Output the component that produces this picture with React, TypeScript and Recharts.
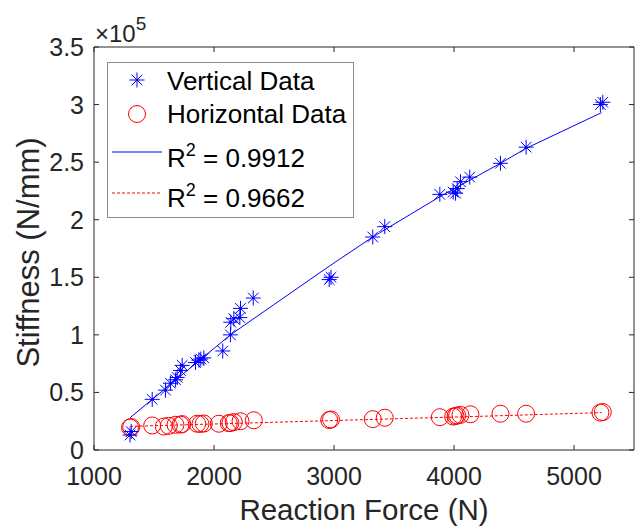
import { ScatterChart, Scatter, XAxis, YAxis, Legend } from "recharts";

const AXIS = "#262626";
const FONT = "'Liberation Sans', Arial, Helvetica, sans-serif";
const BLUE = "#0000ff";
const RED = "#ff0000";

// stiffness values are in units of 1e5 N/mm
const vertForce = [1300, 1310, 1485, 1596, 1637, 1680, 1693, 1721, 1735, 1846, 1874, 1890, 1915, 2073, 2137, 2140, 2165, 2215, 2221, 2327, 2960, 2975, 3323, 3423, 3882, 3993, 4013, 4027, 4054, 4131, 4387, 4601, 5220, 5240];
const vertStiff = [0.13, 0.16, 0.44, 0.52, 0.58, 0.61, 0.63, 0.69, 0.735, 0.76, 0.78, 0.79, 0.8, 0.86, 1.0, 1.11, 1.14, 1.15, 1.23, 1.32, 1.48, 1.5, 1.85, 1.94, 2.22, 2.24, 2.23, 2.27, 2.33, 2.37, 2.49, 2.63, 3.0, 3.02];

const horizForce = [1300, 1310, 1485, 1582, 1623, 1679, 1721, 1735, 1860, 1887, 1915, 2040, 2123, 2137, 2165, 2221, 2332, 2960, 2975, 3323, 3423, 3882, 3993, 4013, 4027, 4054, 4137, 4387, 4601, 5220, 5240];
const horizStiff = [0.195, 0.2, 0.213, 0.204, 0.21, 0.219, 0.22, 0.225, 0.228, 0.226, 0.23, 0.228, 0.233, 0.235, 0.242, 0.25, 0.258, 0.26, 0.265, 0.268, 0.28, 0.285, 0.29, 0.295, 0.3, 0.305, 0.31, 0.315, 0.315, 0.325, 0.33];

const vFitForce = [1300, 2137, 2965, 3323, 3882, 4387, 4601, 5230];
const vFitStiff = [0.28, 1.0, 1.6, 1.85, 2.2, 2.49, 2.62, 2.93];
const hFitForce = [1300, 2300, 3300, 4300, 5230];
const hFitStiff = [0.205, 0.235, 0.265, 0.295, 0.325];

const xTicks = [1000, 2000, 3000, 4000, 5000];
const yTicks = [0, 0.5, 1, 1.5, 2, 2.5, 3, 3.5];
const xDomain = [1000, 5500];
const yDomain = [0, 3.5];

const toPoints = (xs: number[], ys: number[]) => xs.map((x, i) => ({ x, y: ys[i] }));

const Star = ({ cx, cy }: any) => {
  const a = 7.5;
  const d = 5.3;
  return (
    <g stroke={BLUE} strokeWidth={1}>
      <line x1={cx - a} y1={cy} x2={cx + a} y2={cy} />
      <line x1={cx} y1={cy - a} x2={cx} y2={cy + a} />
      <line x1={cx - d} y1={cy - d} x2={cx + d} y2={cy + d} />
      <line x1={cx - d} y1={cy + d} x2={cx + d} y2={cy - d} />
      <circle cx={cx} cy={cy} r={1.3} fill={BLUE} stroke="none" />
    </g>
  );
};

const Ring = ({ cx, cy }: any) => <circle cx={cx} cy={cy} r={8.5} fill="none" stroke={RED} strokeWidth={1} />;

const NoMark = () => <g />;

const BottomTick = ({ x, y, payload }: any) => (
  <g>
    <line x1={x} y1={y} x2={x} y2={y - 5} stroke={AXIS} />
    <text x={x} y={y + 35} textAnchor="middle" fontSize={25} fill={AXIS} fontFamily={FONT}>
      {payload.value}
    </text>
  </g>
);

const LeftTick = ({ x, y, payload }: any) => (
  <g>
    <line x1={x} y1={y} x2={x + 5} y2={y} stroke={AXIS} />
    <text x={x - 10} y={y + 9} textAnchor="end" fontSize={25} fill={AXIS} fontFamily={FONT}>
      {payload.value}
    </text>
  </g>
);

const TopTick = ({ x, y }: any) => <line x1={x} y1={y} x2={x} y2={y + 5} stroke={AXIS} />;
const RightTick = ({ x, y }: any) => <line x1={x} y1={y} x2={x - 5} y2={y} stroke={AXIS} />;

const XLabel = ({ viewBox }: any) => (
  <text x={viewBox.x + viewBox.width / 2} y={viewBox.y + 70} textAnchor="middle" fontSize={29.5} fill={AXIS} fontFamily={FONT}>
    Reaction Force (N)
  </text>
);

const YLabel = ({ viewBox }: any) => {
  const { x, y, width, height } = viewBox;
  return (
    <g fontFamily={FONT} fill={AXIS}>
      <text transform={`translate(${x + 39}, ${y + height / 2 + 4}) rotate(-90)`} textAnchor="middle" fontSize={31}>
        Stiffness (N/mm)
      </text>
      <text x={x + width + 1} y={y - 5} fontSize={24}>
        ×10<tspan dy={-12} fontSize={19}>5</tspan>
      </text>
    </g>
  );
};

const legendRows = [
  { kind: "star", text: "Vertical Data", base: 28, mid: 18 },
  { kind: "ring", text: "Horizontal Data", base: 61, mid: 52 },
  { kind: "solid", text: "0.9912", base: 105, mid: 90 },
  { kind: "dash", text: "0.9662", base: 145, mid: 131 },
];

const LegendBox = () => (
  <svg width={247} height={156} style={{ display: "block" }}>
    <rect x={0.5} y={0.5} width={246} height={155} fill="#fff" stroke="#8c8c8c" />
    <g fontFamily={FONT} fontSize={26} fill="#000">
      {legendRows.map((r) => (
        <g key={r.kind}>
          {r.kind === "star" && <Star cx={30} cy={r.mid} />}
          {r.kind === "ring" && <Ring cx={30} cy={r.mid} />}
          {r.kind === "solid" && <line x1={5} y1={r.mid} x2={55} y2={r.mid} stroke={BLUE} />}
          {r.kind === "dash" && <line x1={5} y1={r.mid} x2={55} y2={r.mid} stroke={RED} strokeDasharray="3 2" />}
          {r.kind === "star" || r.kind === "ring" ? (
            <text x={60} y={r.base}>{r.text}</text>
          ) : (
            <text x={60} y={r.base}>
              R<tspan dy={-11} fontSize={18}>2</tspan>
              <tspan dy={11}> = {r.text}</tspan>
            </text>
          )}
        </g>
      ))}
    </g>
  </svg>
);

export default function App() {
  return (
    <div style={{ position: "absolute", left: 0, top: 0, width: 636, height: 528, background: "#fff" }}>
      <ScatterChart width={636} height={528} margin={{ top: 46, right: 1, bottom: 0, left: 0 }}>
        <XAxis
          xAxisId="b"
          dataKey="x"
          type="number"
          domain={xDomain}
          ticks={xTicks}
          allowDataOverflow
          height={78}
          tickSize={0}
          tickMargin={0}
          tickLine={false}
          axisLine={{ stroke: AXIS }}
          tick={BottomTick}
          label={XLabel}
        />
        <XAxis
          xAxisId="t"
          orientation="top"
          dataKey="x"
          type="number"
          domain={xDomain}
          ticks={xTicks}
          allowDataOverflow
          height={1}
          tickSize={0}
          tickMargin={0}
          tickLine={false}
          axisLine={{ stroke: AXIS }}
          tick={TopTick}
        />
        <YAxis
          yAxisId="l"
          dataKey="y"
          type="number"
          domain={yDomain}
          ticks={yTicks}
          allowDataOverflow
          width={94}
          tickSize={0}
          tickMargin={0}
          tickLine={false}
          axisLine={{ stroke: AXIS }}
          tick={LeftTick}
          label={YLabel}
        />
        <YAxis
          yAxisId="r"
          orientation="right"
          dataKey="y"
          type="number"
          domain={yDomain}
          ticks={yTicks}
          allowDataOverflow
          width={1}
          tickSize={0}
          tickMargin={0}
          tickLine={false}
          axisLine={{ stroke: AXIS }}
          tick={RightTick}
        />
        <Legend
          layout="vertical"
          align="center"
          verticalAlign="middle"
          content={LegendBox}
          wrapperStyle={{ left: 107, top: 62, width: 247, height: 156 }}
        />
        <Scatter
          name="Horizontal Data"
          xAxisId="b"
          yAxisId="l"
          data={toPoints(horizForce, horizStiff)}
          shape={Ring}
          isAnimationActive={false}
        />
        <Scatter
          name="Vertical Data"
          xAxisId="b"
          yAxisId="l"
          data={toPoints(vertForce, vertStiff)}
          shape={Star}
          isAnimationActive={false}
        />
        <Scatter
          name="R2 = 0.9912"
          xAxisId="t"
          yAxisId="r"
          data={toPoints(vFitForce, vFitStiff)}
          line={{ stroke: BLUE, strokeWidth: 1 }}
          shape={NoMark}
          isAnimationActive={false}
        />
        <Scatter
          name="R2 = 0.9662"
          xAxisId="t"
          yAxisId="r"
          data={toPoints(hFitForce, hFitStiff)}
          line={{ stroke: RED, strokeWidth: 1, strokeDasharray: "3 2" }}
          shape={NoMark}
          isAnimationActive={false}
        />
      </ScatterChart>
    </div>
  );
}
